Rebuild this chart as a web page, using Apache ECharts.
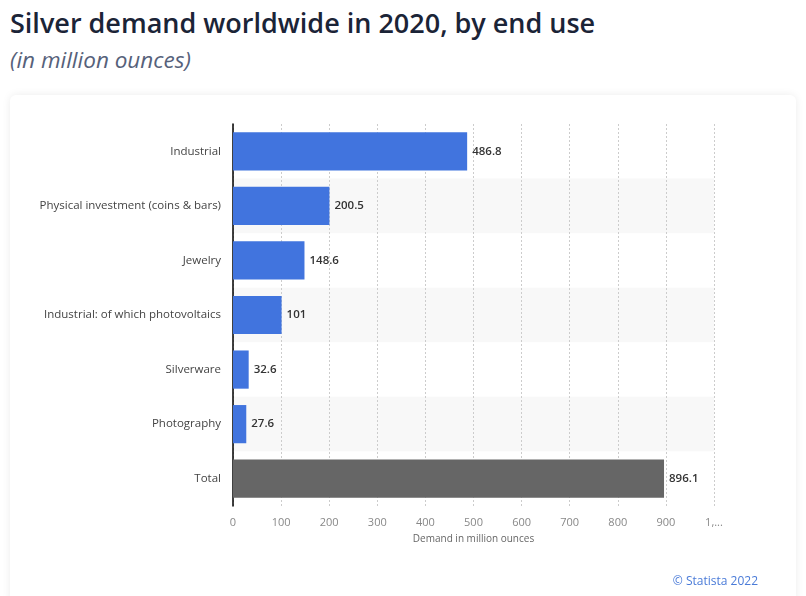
<!DOCTYPE html>
<html><head><meta charset="utf-8">
<script src="https://cdn.jsdelivr.net/npm/echarts@6/dist/echarts.min.js"></script>
<style>
html,body{margin:0;padding:0;background:#fff;width:806px;height:596px;overflow:hidden;font-family:"Open Sans",sans-serif;}
#title{position:absolute;left:10px;top:4px;font-size:27px;font-weight:600;color:#1b2437;}
#sub{position:absolute;left:10px;top:44px;font-size:22.5px;font-style:italic;font-weight:400;color:#56617a;}
#card{position:absolute;left:10px;top:95px;width:786px;height:510px;background:#fff;border-radius:6px;box-shadow:0 0 8px rgba(0,0,0,0.08);}
#chart{position:absolute;left:0;top:0;width:806px;height:596px;}
</style></head>
<body>
<div id="title">Silver demand worldwide in 2020, by end use</div>
<div id="sub">(in million ounces)</div>
<div id="card"></div>
<div id="chart"></div>
<script>
const categories = ["Industrial","Physical investment (coins & bars)","Jewelry","Industrial: of which photovoltaics","Silverware","Photography","Total"];
const values = [486.8,200.5,148.6,101,32.6,27.6,896.1];
const barColors = ["#4174de","#4174de","#4174de","#4174de","#4174de","#4174de","#666666"];
const xTicks = {0:"0",100:"100",200:"200",300:"300",400:"400",500:"500",600:"600",700:"700",800:"800",900:"900",1000:"1,..."};

const chart = echarts.init(document.getElementById('chart'), null, {renderer:'canvas'});
chart.setOption({
  animation:false,
  grid:{left:233,right:92,top:124,bottom:90,containLabel:false},
  graphic:[{type:'text',right:48,top:576,style:{text:'© Statista 2022',fill:'#4a7bd8',font:'12px "Open Sans", sans-serif'}}],
  xAxis:{type:'value',min:0,max:1000,interval:100,
    name:'Demand in million ounces',nameLocation:'middle',nameGap:28,
    nameTextStyle:{color:'#666',fontSize:10,fontFamily:'Open Sans'},
    axisLine:{show:false},axisTick:{show:false},
    axisLabel:{color:'#888',fontSize:11,fontFamily:'Open Sans',margin:11,formatter:v=>xTicks[v]},
    splitLine:{show:true,lineStyle:{color:'#cccccc',type:[2,2],width:1}}},
  yAxis:{type:'category',data:categories,inverse:true,
    axisLine:{show:true,lineStyle:{color:'#000',width:1.5}},axisTick:{show:false},
    axisLabel:{color:'#444',fontSize:11.5,fontFamily:'Open Sans',margin:12},
    splitArea:{show:true,areaStyle:{color:['#ffffff','#f8f8f8']}}},
  series:[{type:'bar',data:values.map((v,i)=>({value:v,itemStyle:{color:barColors[i]}})),
    barWidth:'70%',
    label:{show:true,position:'right',distance:5,color:'#333',fontSize:11.5,fontWeight:600,fontFamily:'Open Sans'}}]
});
</script>
</body></html>
